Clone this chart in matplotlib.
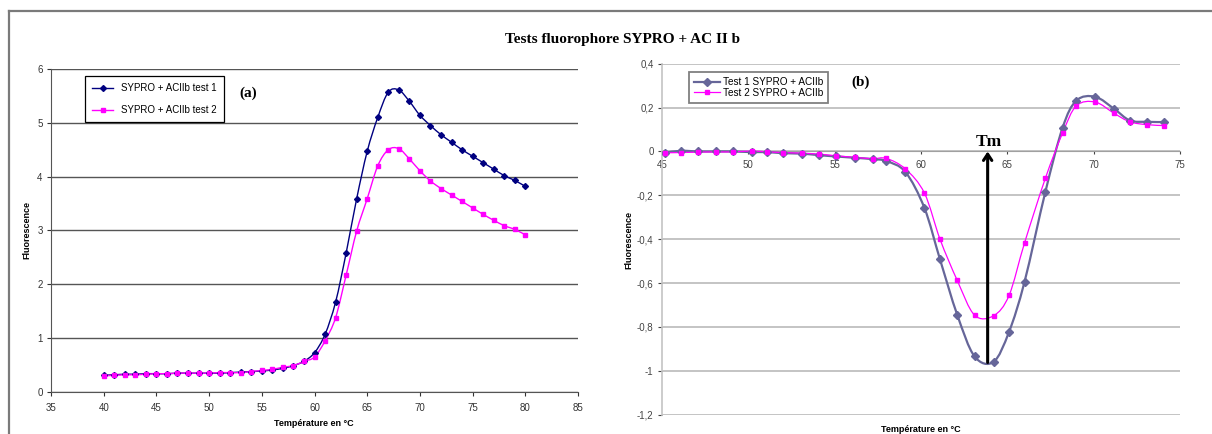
import numpy as np
import matplotlib.pyplot as plt
from matplotlib.path import Path
from matplotlib.patches import PathPatch
from matplotlib.lines import Line2D
from matplotlib.ticker import FuncFormatter

plt.rcParams['axes.unicode_minus'] = False
plt.rcParams['font.family'] = ['Liberation Sans', 'DejaVu Sans']

# (a) raw fluorescence vs temperature
temp_a = list(range(40, 81))
fluo_a1 = [0.31, 0.32, 0.33, 0.33, 0.34, 0.34, 0.34, 0.35, 0.35, 0.35, 0.35,
           0.35, 0.36, 0.37, 0.38, 0.39, 0.41, 0.44, 0.49, 0.57, 0.73, 1.07,
           1.67, 2.58, 3.59, 4.47, 5.10, 5.57, 5.61, 5.40, 5.14, 4.95, 4.78,
           4.64, 4.50, 4.38, 4.26, 4.14, 4.02, 3.93, 3.82]
fluo_a2 = [0.30, 0.31, 0.32, 0.32, 0.33, 0.34, 0.34, 0.35, 0.35, 0.35, 0.35,
           0.36, 0.36, 0.36, 0.38, 0.40, 0.42, 0.46, 0.49, 0.57, 0.65, 0.95,
           1.38, 2.17, 2.99, 3.59, 4.20, 4.50, 4.52, 4.33, 4.11, 3.92, 3.78,
           3.66, 3.54, 3.42, 3.30, 3.19, 3.09, 3.02, 2.92]
labels_a = ['SYPRO + ACIIb test 1', 'SYPRO + ACIIb test 2']

# (b) derivative
temp_b = [45.2, 46.1, 47.1, 48.1, 49.1, 50.2, 51.1, 52.0, 53.1, 54.1, 55.1,
          56.2, 57.2, 58.0, 59.1, 60.2, 61.1, 62.1, 63.1, 64.2, 65.1, 66.0,
          67.2, 68.2, 69.0, 70.1, 71.2, 72.1, 73.1, 74.1]
deriv_b1 = [-0.005, 0.003, 0.0, 0.0, 0.0, -0.003, -0.003, -0.008, -0.010,
            -0.017, -0.023, -0.029, -0.035, -0.044, -0.094, -0.258, -0.492,
            -0.745, -0.934, -0.959, -0.822, -0.593, -0.185, 0.108, 0.232,
            0.249, 0.193, 0.141, 0.135, 0.134]
deriv_b2 = [-0.006, -0.005, -0.003, -0.002, -0.002, 0.002, -0.002, -0.005,
            -0.008, -0.012, -0.020, -0.027, -0.033, -0.032, -0.080, -0.190,
            -0.400, -0.588, -0.746, -0.749, -0.656, -0.416, -0.123, 0.084,
            0.208, 0.225, 0.173, 0.135, 0.122, 0.118]
labels_b = ['Test 1 SYPRO + ACIIb', 'Test 2 SYPRO + ACIIb']
tm = 63.86
tm_low = -0.962


def smooth_path(x, y):
    # excel-like smoothed line through the points (catmull-rom as bezier)
    p = np.column_stack([x, y]).astype(float)
    n = len(p)
    verts = [p[0]]
    codes = [Path.MOVETO]
    for i in range(n - 1):
        p0 = p[max(i - 1, 0)]
        p3 = p[min(i + 2, n - 1)]
        verts += [p[i] + (p[i + 1] - p0) / 6, p[i + 1] - (p3 - p[i]) / 6, p[i + 1]]
        codes += [Path.CURVE4] * 3
    return Path(verts, codes)


def draw_series(ax, x, y, color, lw, marker, ms):
    ax.add_patch(PathPatch(smooth_path(x, y), fc='none', ec=color, lw=lw, zorder=3))
    ax.plot(x, y, ls='none', marker=marker, ms=ms, color=color, zorder=4)
    return Line2D([], [], color=color, lw=lw, marker=marker, ms=ms)


def comma_fmt(v, pos):
    v = round(v, 1)
    if abs(v) < 1e-9:
        return '0'
    return f'{v:g}'.replace('.', ',')


W, H = 1212, 434
fig = plt.figure(figsize=(W / 100, H / 100), dpi=100)

# outer frame (top + left only visible)
fig.add_artist(Line2D([9 / W, 1], [1 - 11 / H, 1 - 11 / H], color='#7a7a7a', lw=1.6))
fig.add_artist(Line2D([9 / W, 9 / W], [0, 1 - 11 / H], color='#7a7a7a', lw=1.6))

fig.text(622 / W, 1 - 40 / H, 'Tests fluorophore SYPRO + AC II b', ha='center', va='center',
         family='Liberation Serif', fontweight='bold', fontsize=11)

# ---- panel (a)
axa = fig.add_axes([51 / W, 1 - 392 / H, 527 / W, 323 / H])
axa.set_xlim(35, 85)
axa.set_ylim(0, 6)
axa.set_xticks(range(35, 86, 5))
axa.set_yticks(range(0, 7))
axa.grid(axis='y', color='#555555', lw=1.0)
axa.set_axisbelow(True)
for s in ['top', 'right']:
    axa.spines[s].set_visible(False)
for s in ['left', 'bottom']:
    axa.spines[s].set_color('#555555')
axa.tick_params(labelsize=7, colors='#333333', length=3, pad=3)
axa.tick_params(axis='x', pad=5)

h1 = draw_series(axa, temp_a, fluo_a1, '#000080', 1.0, 'D', 3)
h2 = draw_series(axa, temp_a, fluo_a2, '#ff00ff', 1.0, 's', 3.5)
leg = axa.legend([h1, h2], labels_a, loc='upper left', bbox_to_anchor=(0.065, 0.978),
                 borderaxespad=0, fontsize=7, labelspacing=1.25, handlelength=2.2,
                 fancybox=False, framealpha=1, edgecolor='black', borderpad=0.7)
leg.get_frame().set_linewidth(0.9)
axa.text(53.7, 5.55, '(a)', ha='center', va='center', family='Liberation Serif',
         fontweight='bold', fontsize=11)

fig.text(314 / W, 1 - 423 / H, 'Température en °C', ha='center', va='center',
         fontsize=6.5, fontweight='bold')
fig.text(27 / W, 1 - 230 / H, 'Fluorescence', ha='center', va='center', rotation=90,
         fontsize=6.5, fontweight='bold')

# ---- panel (b)
axb = fig.add_axes([662 / W, 1 - 414.7 / H, 518 / W, 351 / H])
axb.set_xlim(45, 75)
axb.set_ylim(-1.2, 0.4)
axb.set_xticks(range(45, 76, 5))
axb.set_yticks(np.arange(-1.2, 0.41, 0.2))
axb.yaxis.set_major_formatter(FuncFormatter(comma_fmt))
axb.grid(axis='y', color='#c4c4c4', lw=1.4)
axb.set_axisbelow(True)
for s in ['top', 'right']:
    axb.spines[s].set_visible(False)
axb.spines['bottom'].set_position(('data', 0))
axb.spines['bottom'].set_color('#a0a0a0')
axb.spines['left'].set_color('#c4c4c4')
axb.spines['left'].set_linewidth(1.2)
axb.tick_params(labelsize=7, colors='#444444', length=3, pad=3)
axb.tick_params(axis='x', length=2, pad=4)

g1 = draw_series(axb, temp_b, deriv_b1, '#666699', 1.6, 'D', 4.5)
g2 = draw_series(axb, temp_b, deriv_b2, '#ff00ff', 0.9, 's', 3.5)
leg = axb.legend([g1, g2], labels_b, loc='upper left', bbox_to_anchor=(0.0527, 0.976),
                 borderaxespad=0, fontsize=7.2, labelspacing=0.05, handlelength=2.6,
                 handletextpad=0.25, fancybox=False, framealpha=1, edgecolor='#808080',
                 borderpad=0.5)
leg.get_frame().set_linewidth(1.3)
axb.text(56.5, 0.316, '(b)', ha='center', va='center', family='Liberation Serif',
         fontweight='bold', fontsize=11)

axb.annotate('', xy=(tm, 0), xytext=(tm, tm_low),
             arrowprops=dict(arrowstyle='->,head_length=0.45,head_width=0.3', lw=2.2,
                             color='black', shrinkA=0, shrinkB=0), zorder=5)
axb.text(tm + 0.05, 0.005, 'Tm', ha='center', va='bottom', family='Liberation Serif',
         fontweight='bold', fontsize=12.5)

fig.text(921 / W, 1 - 430 / H, 'Température en °C', ha='center', va='center',
         fontsize=6.5, fontweight='bold')
fig.text(629 / W, 1 - 240 / H, 'Fluorescence', ha='center', va='center', rotation=90,
         fontsize=6.5, fontweight='bold')

fig.savefig('out.png', dpi=100)
